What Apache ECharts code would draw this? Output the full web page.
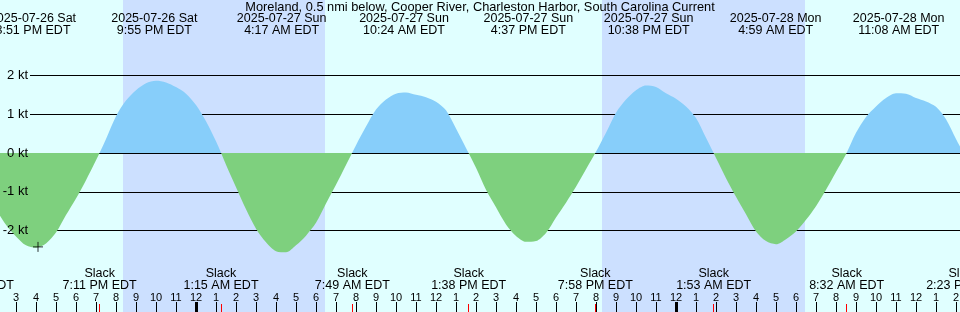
<!DOCTYPE html>
<html>
<head>
<meta charset="utf-8">
<script src="https://cdn.jsdelivr.net/npm/echarts@6/dist/echarts.min.js"></script>
<style>
  html, body { margin: 0; padding: 0; background: #e0ffff; }
  #chart { width: 960px; height: 312px; }
</style>
</head>
<body>
<div id="chart"></div>
<script>
// half-hourly readings, hours from 2025-07-27 00:00 EDT
const hours = [
  -10, -9.5, -9, -8.5, -8, -7.5, -7, -6.5, -6, -5.5, -5, -4.5, -4, -3.5, -3, -2.5, -2, -1.5, -1, -0.5,
  0, 0.5, 1, 1.5, 2, 2.5, 3, 3.5, 4, 4.5, 5, 5.5, 6, 6.5, 7, 7.5, 8, 8.5, 9, 9.5,
  10, 10.5, 11, 11.5, 12, 12.5, 13, 13.5, 14, 14.5, 15, 15.5, 16, 16.5, 17, 17.5, 18, 18.5, 19, 19.5,
  20, 20.5, 21, 21.5, 22, 22.5, 23, 23.5, 24, 24.5, 25, 25.5, 26, 26.5, 27, 27.5, 28, 28.5, 29, 29.5,
  30, 30.5, 31, 31.5, 32, 32.5, 33, 33.5, 34, 34.5, 35, 35.5, 36, 36.5, 37, 37.5, 38, 38.5, 39
]
// current in knots (+ flood, - ebb)
const knots = [
  -1.45, -1.85, -2.15, -2.38, -2.44, -2.33, -2.05, -1.6, -1.17, -0.7, -0.19, 0.36, 0.95, 1.35, 1.62, 1.8, 1.86, 1.82, 1.7, 1.53,
  1.24, 0.82, 0.3, -0.3, -0.88, -1.45, -1.95, -2.3, -2.53, -2.56, -2.38, -2.13, -1.8, -1.3, -0.82, -0.31, 0.2, 0.68, 1.12, 1.38,
  1.53, 1.56, 1.5, 1.44, 1.32, 1.1, 0.63, 0.13, -0.38, -0.95, -1.4, -1.84, -2.14, -2.29, -2.27, -2.06, -1.66, -1.28, -0.87, -0.42,
  0.03, 0.52, 1.04, 1.38, 1.62, 1.74, 1.7, 1.54, 1.4, 1.2, 0.9, 0.39, -0.13, -0.65, -1.13, -1.58, -2.02, -2.27, -2.35, -2.22,
  -2.02, -1.72, -1.37, -0.95, -0.49, -0.03, 0.52, 0.93, 1.2, 1.42, 1.54, 1.53, 1.42, 1.33, 1.19, 0.87, 0.36, -0.12, -0.6
]

// max flood / max ebb labels along the top
const peakTimes = [-8.15, -2.083, 4.283, 10.4, 16.617, 22.633, 28.983, 35.133]
const peakDates = ['2025-07-26 Sat', '2025-07-26 Sat', '2025-07-27 Sun', '2025-07-27 Sun',
  '2025-07-27 Sun', '2025-07-27 Sun', '2025-07-28 Mon', '2025-07-28 Mon']
const peakClock = ['3:51 PM EDT', '9:55 PM EDT', '4:17 AM EDT', '10:24 AM EDT',
  '4:37 PM EDT', '10:38 PM EDT', '4:59 AM EDT', '11:08 AM EDT']

// slack water
const slackTimes = [-11.15, -4.817, 1.25, 7.817, 13.633, 19.967, 25.883, 32.533, 38.383]
const slackClock = ['12:51 PM EDT', '7:11 PM EDT', '1:15 AM EDT', '7:49 AM EDT', '1:38 PM EDT',
  '7:58 PM EDT', '1:53 AM EDT', '8:32 AM EDT', '2:23 PM EDT']

const midnights = [0, 24]
const nightStart = [-3.65, 20.3]
const nightEnd = [6.45, 30.45]
const nowMark = [-7.9, -2.42]

const yTicks = [-2, -1, 0, 1, 2]

const FONT = 'Liberation Sans'
const T_MIN = -15
const T_MAX = 43
const PX_PER_HOUR = 20
const ZERO_Y = 153
const PX_PER_KT = 38.8
const W = 960
const H = 312

const FLOOD = '#87cefa'
const EBB = '#7ed07e'

const gridLeft = 196 + T_MIN * PX_PER_HOUR
const gridRight = W - (196 + T_MAX * PX_PER_HOUR)

function nearest(arr, v) {
  let best = 0
  arr.forEach((a, i) => {
    if (Math.abs(a - v) < Math.abs(arr[best] - v)) best = i
  })
  return best
}

function hourLabel(v) {
  const h = ((Math.round(v) % 12) + 12) % 12
  return String(h === 0 ? 12 : h)
}

const baseX = {
  type: 'value',
  gridIndex: 0,
  min: T_MIN,
  max: T_MAX,
  position: 'bottom',
  axisLine: { show: false, onZero: false },
  splitLine: { show: false },
  axisTick: { show: false },
  axisLabel: { show: false },
  z: 3
}

const baseY = {
  type: 'value',
  gridIndex: 1,
  position: 'left',
  min: yTicks[0],
  max: yTicks[yTicks.length - 1],
  interval: 1,
  axisLine: { show: false, onZero: false },
  axisTick: { show: false },
  splitLine: { show: false },
  axisLabel: { show: false }
}

// flood above the zero line, ebb below it
const split = ZERO_Y / H
const areaFill = new echarts.graphic.LinearGradient(0, 0, 0, H, [
  { offset: 0, color: FLOOD },
  { offset: split, color: FLOOD },
  { offset: split, color: EBB },
  { offset: 1, color: EBB }
], true)

const chart = echarts.init(document.getElementById('chart'))
chart.setOption({
  animation: false,
  backgroundColor: '#e0ffff',
  title: {
    text: 'Moreland, 0.5 nmi below, Cooper River, Charleston Harbor, South Carolina Current',
    left: 'center',
    top: 1,
    padding: 0,
    textStyle: { fontFamily: FONT, fontSize: 12.8, fontWeight: 'normal', color: '#000', lineHeight: 13 }
  },
  grid: [
    { left: gridLeft, right: gridRight, top: 0, bottom: 0, outerBoundsMode: 'none' },
    {
      left: 30, right: 0,
      top: ZERO_Y - 2 * PX_PER_KT,
      bottom: H - (ZERO_Y + 2 * PX_PER_KT),
      outerBoundsMode: 'none'
    }
  ],
  xAxis: [
    // hour ticks
    Object.assign({}, baseX, {
      interval: 1,
      axisTick: { show: true, inside: true, length: 10, lineStyle: { color: '#000', width: 1 } },
      axisLabel: {
        show: true, inside: true, margin: 9, hideOverlap: false,
        fontFamily: FONT, fontSize: 11, color: '#000',
        formatter: hourLabel
      }
    }),
    // midnight
    Object.assign({}, baseX, {
      axisTick: { show: true, inside: true, length: 10, customValues: midnights, lineStyle: { color: '#000', width: 3 } }
    }),
    // slack ticks
    Object.assign({}, baseX, {
      axisTick: { show: true, inside: true, length: 8, customValues: slackTimes, lineStyle: { color: '#ff0000', width: 1 } }
    }),
    // slack labels
    Object.assign({}, baseX, {
      axisLabel: {
        show: true, inside: true, margin: 20, hideOverlap: false,
        customValues: slackTimes,
        fontFamily: FONT, fontSize: 12.5, lineHeight: 12, color: '#000',
        formatter: (v) => 'Slack\n' + slackClock[nearest(slackTimes, v)]
      }
    }),
    // peak labels on top
    Object.assign({}, baseX, {
      position: 'top',
      axisLabel: {
        show: true, inside: true, margin: 13, hideOverlap: false,
        customValues: peakTimes,
        fontFamily: FONT, fontSize: 12.5, lineHeight: 12, color: '#000',
        formatter: (v) => {
          const i = nearest(peakTimes, v)
          return peakDates[i] + '\n' + peakClock[i]
        }
      }
    }),
    { type: 'value', gridIndex: 1, show: false, min: 0, max: 1 }
  ],
  yAxis: [
    {
      type: 'value', gridIndex: 0, show: false,
      min: -(H - ZERO_Y) / PX_PER_KT,
      max: ZERO_Y / PX_PER_KT
    },
    // knot lines, under the current
    Object.assign({}, baseY, {
      z: 1.5,
      splitLine: { show: true, showMinLine: true, showMaxLine: true, lineStyle: { color: '#000', width: 1 } }
    }),
    // knot labels, over the current
    Object.assign({}, baseY, {
      z: 3,
      axisLabel: {
        show: true, margin: 2, fontFamily: FONT, fontSize: 13, color: '#000',
        formatter: (v) => v + ' kt'
      }
    })
  ],
  series: [
    {
      type: 'line',
      xAxisIndex: 0,
      yAxisIndex: 0,
      data: hours.map((t, i) => [t, knots[i]]),
      smooth: 0.3,
      showSymbol: false,
      lineStyle: { width: 0, opacity: 0 },
      areaStyle: { opacity: 1, color: areaFill },
      z: 2,
      markArea: {
        silent: true,
        z: 1,
        itemStyle: { color: '#cce0ff' },
        data: nightStart.map((s, i) => [{ xAxis: s }, { xAxis: nightEnd[i] }])
      }
    },
    {
      type: 'scatter',
      xAxisIndex: 0,
      yAxisIndex: 0,
      data: [nowMark],
      symbol: 'path://M0,5L10,5M5,0L5,10',
      symbolSize: 10,
      itemStyle: { color: 'none', borderColor: '#000', borderWidth: 1 },
      z: 4
    }
  ]
})
</script>
</body>
</html>
